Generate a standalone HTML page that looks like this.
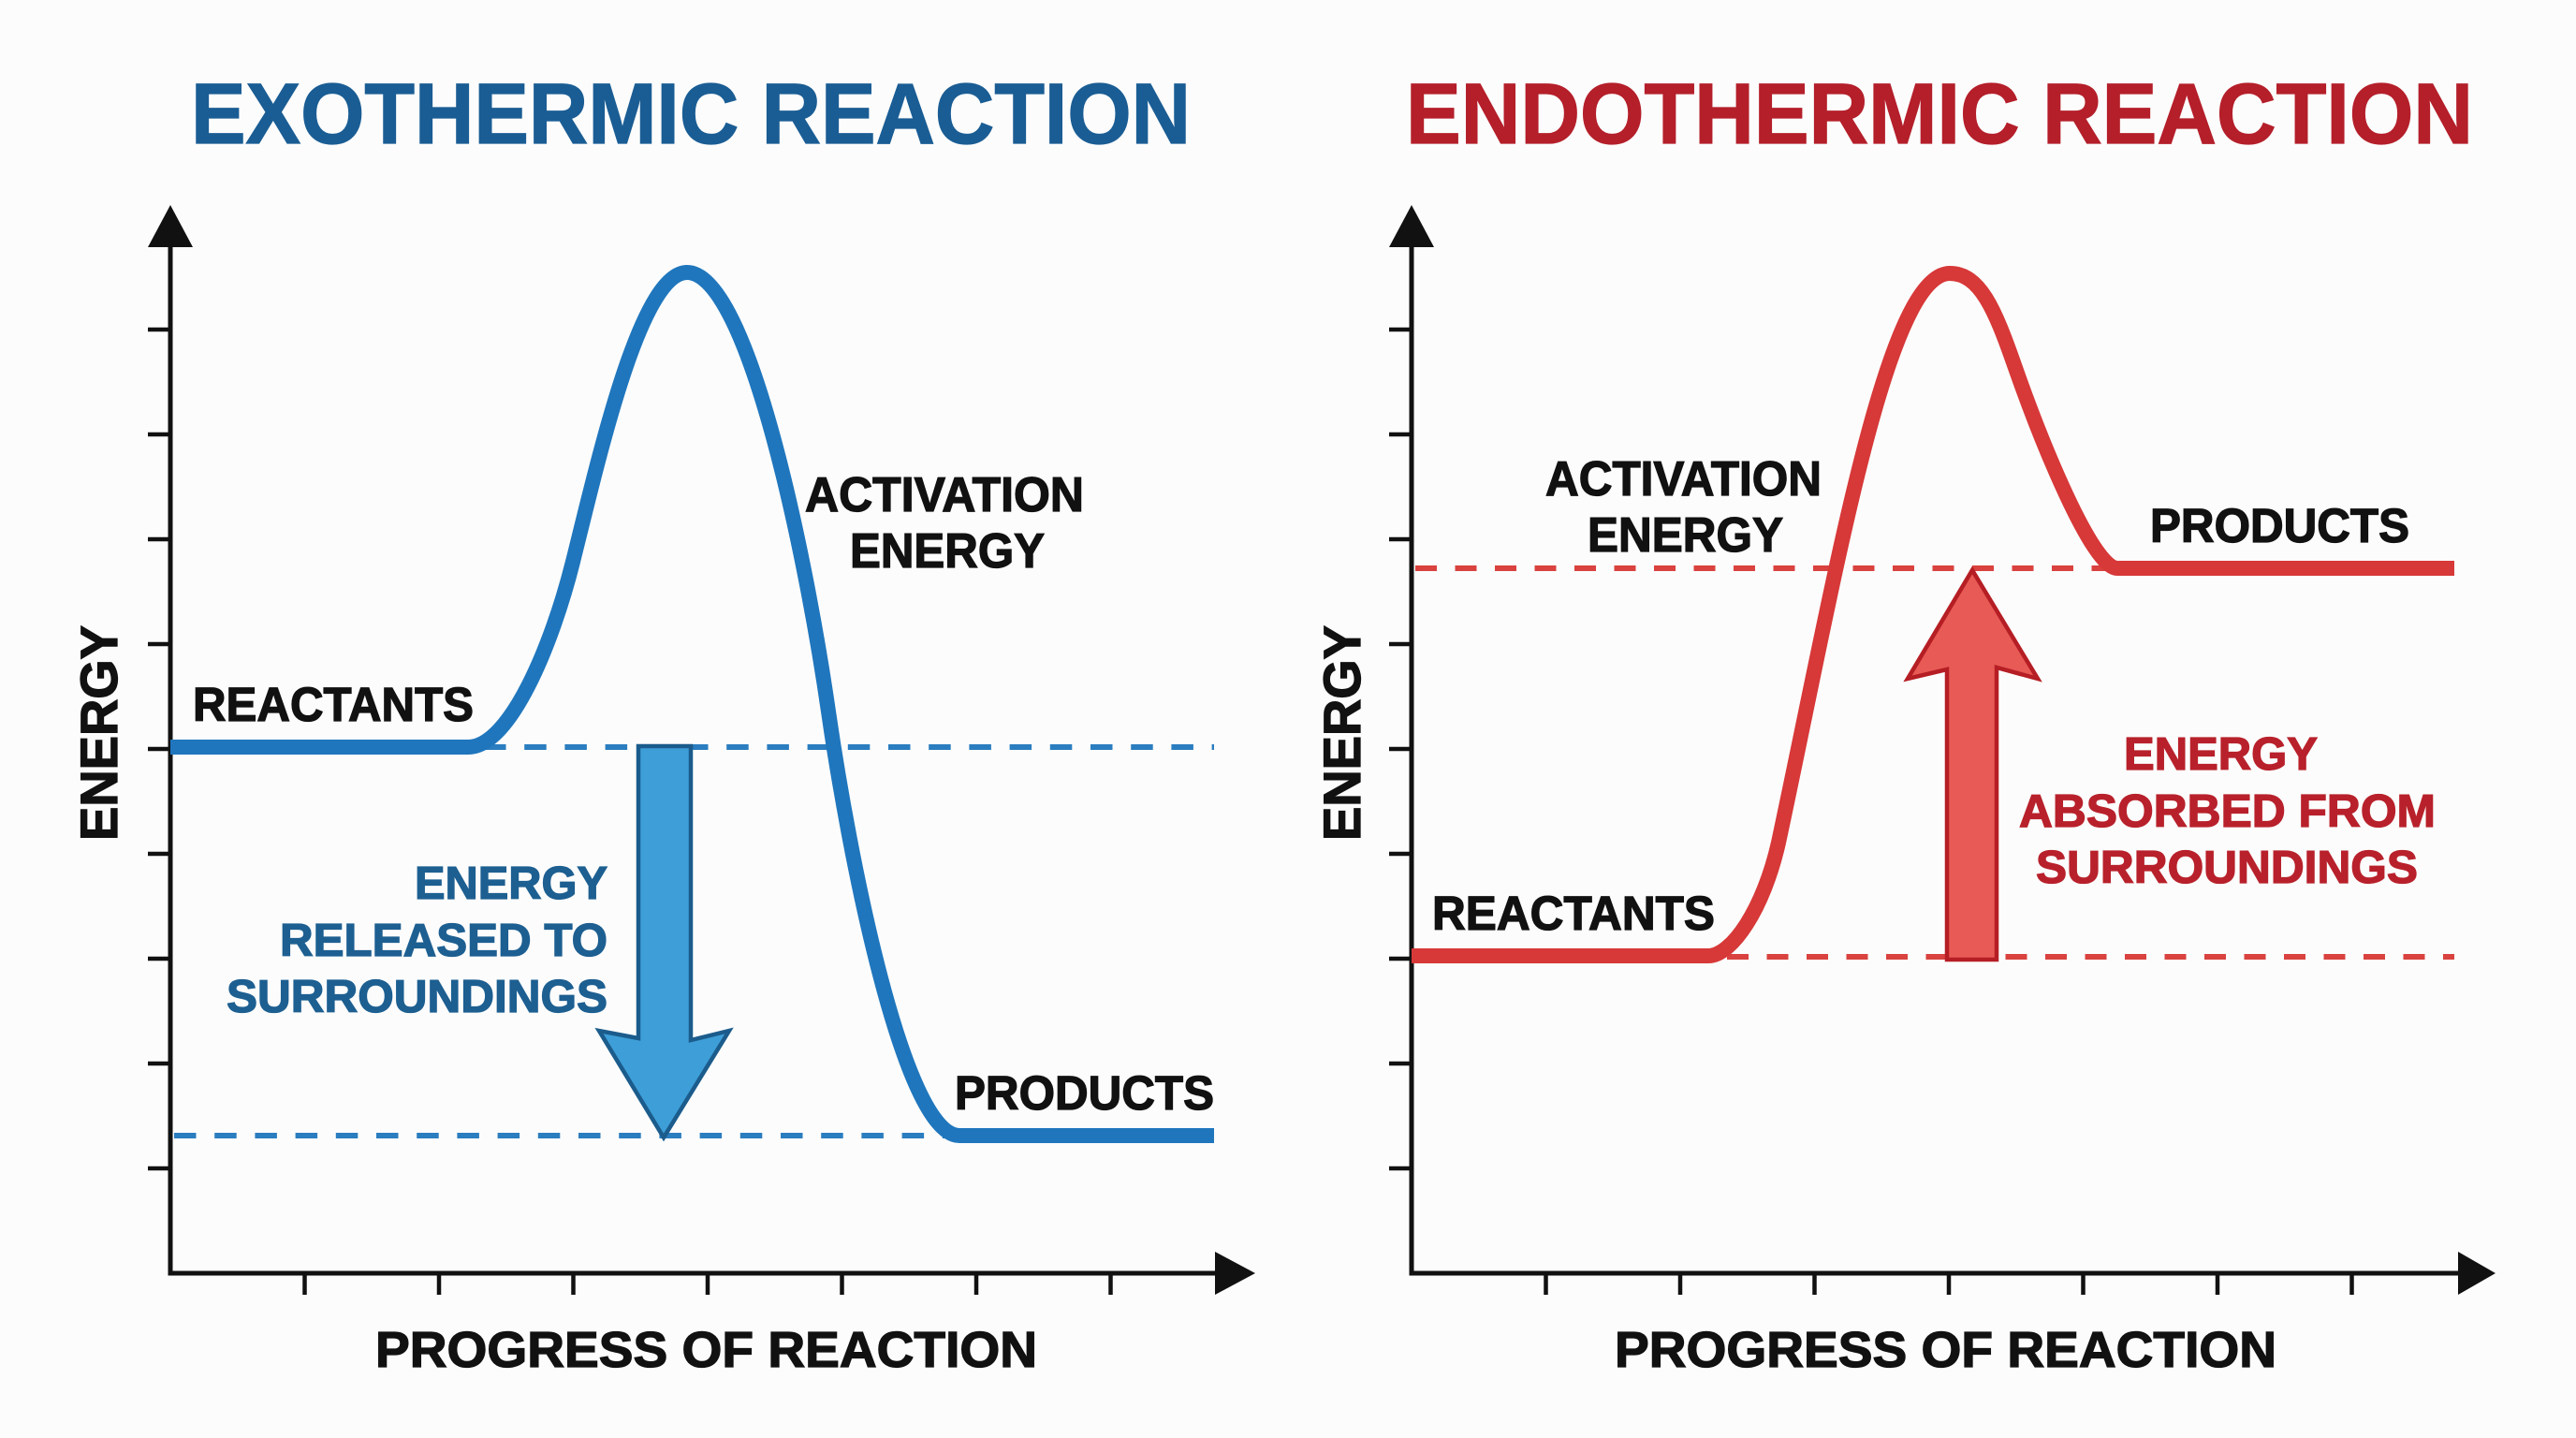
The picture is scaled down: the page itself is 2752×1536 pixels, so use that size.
<!DOCTYPE html>
<html>
<head>
<meta charset="utf-8">
<style>
html,body{margin:0;padding:0;background:#fcfcfc;}
svg{display:block;}
text{font-family:"Liberation Sans",Arial,sans-serif;font-weight:700;stroke-width:1.3px;paint-order:stroke;}
</style>
</head>
<body>
<svg width="2752" height="1536" viewBox="0 0 2752 1536" xmlns="http://www.w3.org/2000/svg">
<rect x="0" y="0" width="2752" height="1536" fill="#fcfcfc"/>

<!-- ================= LEFT: EXOTHERMIC ================= -->
<text x="204" y="153" font-size="92" fill="#1a5d94" stroke="#1a5d94" textLength="1068" lengthAdjust="spacingAndGlyphs">EXOTHERMIC REACTION</text>

<g stroke="#111" stroke-width="5" fill="none">
  <line x1="182" y1="250" x2="182" y2="1362"/>
  <line x1="179.5" y1="1360" x2="1305" y2="1360"/>
</g>
<polygon points="182,219 158,264 206,264" fill="#111"/>
<polygon points="1341,1360 1298,1337 1298,1383" fill="#111"/>
<g stroke="#111" stroke-width="4.5">
  <line x1="158" y1="352" x2="182" y2="352"/>
  <line x1="158" y1="464" x2="182" y2="464"/>
  <line x1="158" y1="576" x2="182" y2="576"/>
  <line x1="158" y1="688" x2="182" y2="688"/>
  <line x1="158" y1="800" x2="182" y2="800"/>
  <line x1="158" y1="912" x2="182" y2="912"/>
  <line x1="158" y1="1024" x2="182" y2="1024"/>
  <line x1="158" y1="1136" x2="182" y2="1136"/>
  <line x1="158" y1="1248" x2="182" y2="1248"/>
  <line x1="325.5" y1="1360" x2="325.5" y2="1383"/>
  <line x1="469" y1="1360" x2="469" y2="1383"/>
  <line x1="612.5" y1="1360" x2="612.5" y2="1383"/>
  <line x1="756" y1="1360" x2="756" y2="1383"/>
  <line x1="899.5" y1="1360" x2="899.5" y2="1383"/>
  <line x1="1043" y1="1360" x2="1043" y2="1383"/>
  <line x1="1186.5" y1="1360" x2="1186.5" y2="1383"/>
</g>

<text x="401" y="1460" font-size="54" fill="#111" stroke="#111" textLength="707" lengthAdjust="spacingAndGlyphs">PROGRESS OF REACTION</text>
<text transform="translate(125,898) rotate(-90)" x="0" y="0" font-size="56" fill="#111" stroke="#111" textLength="230" lengthAdjust="spacingAndGlyphs">ENERGY</text>

<g stroke="#2a7dbf" stroke-width="6" stroke-dasharray="23.5 19.7" fill="none">
  <line x1="517" y1="798" x2="1297" y2="798"/>
  <line x1="186" y1="1213" x2="1015" y2="1213"/>
</g>

<polygon points="682,797 738,797 738,1111 779,1101 709,1215 640,1101 682,1109" fill="#3e9fd8" stroke="#1b5c8c" stroke-width="4.5" stroke-linejoin="miter"/>

<path d="M182,798 L500,798 C545,798 590,688 612,600 C640,488 684,291 734,291 C800,291 862,600 885,760 C907,913 965,1213 1025,1213 L1297,1213" fill="none" stroke="#1f76bd" stroke-width="16" stroke-linejoin="round"/>

<text x="206" y="770" font-size="51" fill="#111" stroke="#111" textLength="300" lengthAdjust="spacingAndGlyphs">REACTANTS</text>
<text x="860" y="546" font-size="52" fill="#111" stroke="#111" textLength="298" lengthAdjust="spacingAndGlyphs">ACTIVATION</text>
<text x="908" y="606" font-size="52" fill="#111" stroke="#111" textLength="208" lengthAdjust="spacingAndGlyphs">ENERGY</text>
<text x="1020" y="1185" font-size="51" fill="#111" stroke="#111" textLength="277" lengthAdjust="spacingAndGlyphs">PRODUCTS</text>
<text x="443" y="960" font-size="49" fill="#1d5f91" stroke="#1d5f91" textLength="206" lengthAdjust="spacingAndGlyphs">ENERGY</text>
<text x="299" y="1021" font-size="49" fill="#1d5f91" stroke="#1d5f91" textLength="350" lengthAdjust="spacingAndGlyphs">RELEASED TO</text>
<text x="242" y="1081" font-size="49" fill="#1d5f91" stroke="#1d5f91" textLength="407" lengthAdjust="spacingAndGlyphs">SURROUNDINGS</text>

<!-- ================= RIGHT: ENDOTHERMIC ================= -->
<text x="1502" y="153" font-size="92" fill="#b41f2a" stroke="#b41f2a" textLength="1140" lengthAdjust="spacingAndGlyphs">ENDOTHERMIC REACTION</text>

<g stroke="#111" stroke-width="5" fill="none">
  <line x1="1508" y1="250" x2="1508" y2="1362"/>
  <line x1="1505.5" y1="1360" x2="2630" y2="1360"/>
</g>
<polygon points="1508,219 1484,264 1532,264" fill="#111"/>
<polygon points="2666,1360 2626,1337 2626,1383" fill="#111"/>
<g stroke="#111" stroke-width="4.5">
  <line x1="1484" y1="352" x2="1508" y2="352"/>
  <line x1="1484" y1="464" x2="1508" y2="464"/>
  <line x1="1484" y1="576" x2="1508" y2="576"/>
  <line x1="1484" y1="688" x2="1508" y2="688"/>
  <line x1="1484" y1="800" x2="1508" y2="800"/>
  <line x1="1484" y1="912" x2="1508" y2="912"/>
  <line x1="1484" y1="1024" x2="1508" y2="1024"/>
  <line x1="1484" y1="1136" x2="1508" y2="1136"/>
  <line x1="1484" y1="1248" x2="1508" y2="1248"/>
  <line x1="1651.5" y1="1360" x2="1651.5" y2="1383"/>
  <line x1="1795" y1="1360" x2="1795" y2="1383"/>
  <line x1="1938.5" y1="1360" x2="1938.5" y2="1383"/>
  <line x1="2082" y1="1360" x2="2082" y2="1383"/>
  <line x1="2225.5" y1="1360" x2="2225.5" y2="1383"/>
  <line x1="2369" y1="1360" x2="2369" y2="1383"/>
  <line x1="2512.5" y1="1360" x2="2512.5" y2="1383"/>
</g>

<text x="1725" y="1460" font-size="54" fill="#111" stroke="#111" textLength="707" lengthAdjust="spacingAndGlyphs">PROGRESS OF REACTION</text>
<text transform="translate(1453,898) rotate(-90)" x="0" y="0" font-size="56" fill="#111" stroke="#111" textLength="230" lengthAdjust="spacingAndGlyphs">ENERGY</text>

<g stroke="#d9423f" stroke-width="6" stroke-dasharray="23 19.5" fill="none">
  <line x1="1512" y1="607" x2="2257" y2="607"/>
  <line x1="1845" y1="1022" x2="2622" y2="1022"/>
</g>

<polygon points="2080,1025 2133,1025 2133,713 2177,725 2107,609 2038,725 2080,715" fill="#e85a55" stroke="#b51e24" stroke-width="4.5" stroke-linejoin="miter"/>

<path d="M1508,1021 L1825,1021 C1850,1021 1884,971 1900,900 C1960,620 2015,292 2083,292 C2115,292 2131,330 2152,390 C2180,470 2235,607 2262,607 L2622,607" fill="none" stroke="#d73838" stroke-width="16" stroke-linejoin="round"/>

<text x="1651" y="529" font-size="52" fill="#111" stroke="#111" textLength="295" lengthAdjust="spacingAndGlyphs">ACTIVATION</text>
<text x="1696" y="589" font-size="52" fill="#111" stroke="#111" textLength="209" lengthAdjust="spacingAndGlyphs">ENERGY</text>
<text x="2297" y="579" font-size="51" fill="#111" stroke="#111" textLength="277" lengthAdjust="spacingAndGlyphs">PRODUCTS</text>
<text x="1530" y="993" font-size="51" fill="#111" stroke="#111" textLength="302" lengthAdjust="spacingAndGlyphs">REACTANTS</text>
<text x="2269" y="822" font-size="49" fill="#b8212b" stroke="#b8212b" textLength="207" lengthAdjust="spacingAndGlyphs">ENERGY</text>
<text x="2157" y="883" font-size="49" fill="#b8212b" stroke="#b8212b" textLength="445" lengthAdjust="spacingAndGlyphs">ABSORBED FROM</text>
<text x="2175" y="943" font-size="49" fill="#b8212b" stroke="#b8212b" textLength="408" lengthAdjust="spacingAndGlyphs">SURROUNDINGS</text>
</svg>
</body>
</html>
